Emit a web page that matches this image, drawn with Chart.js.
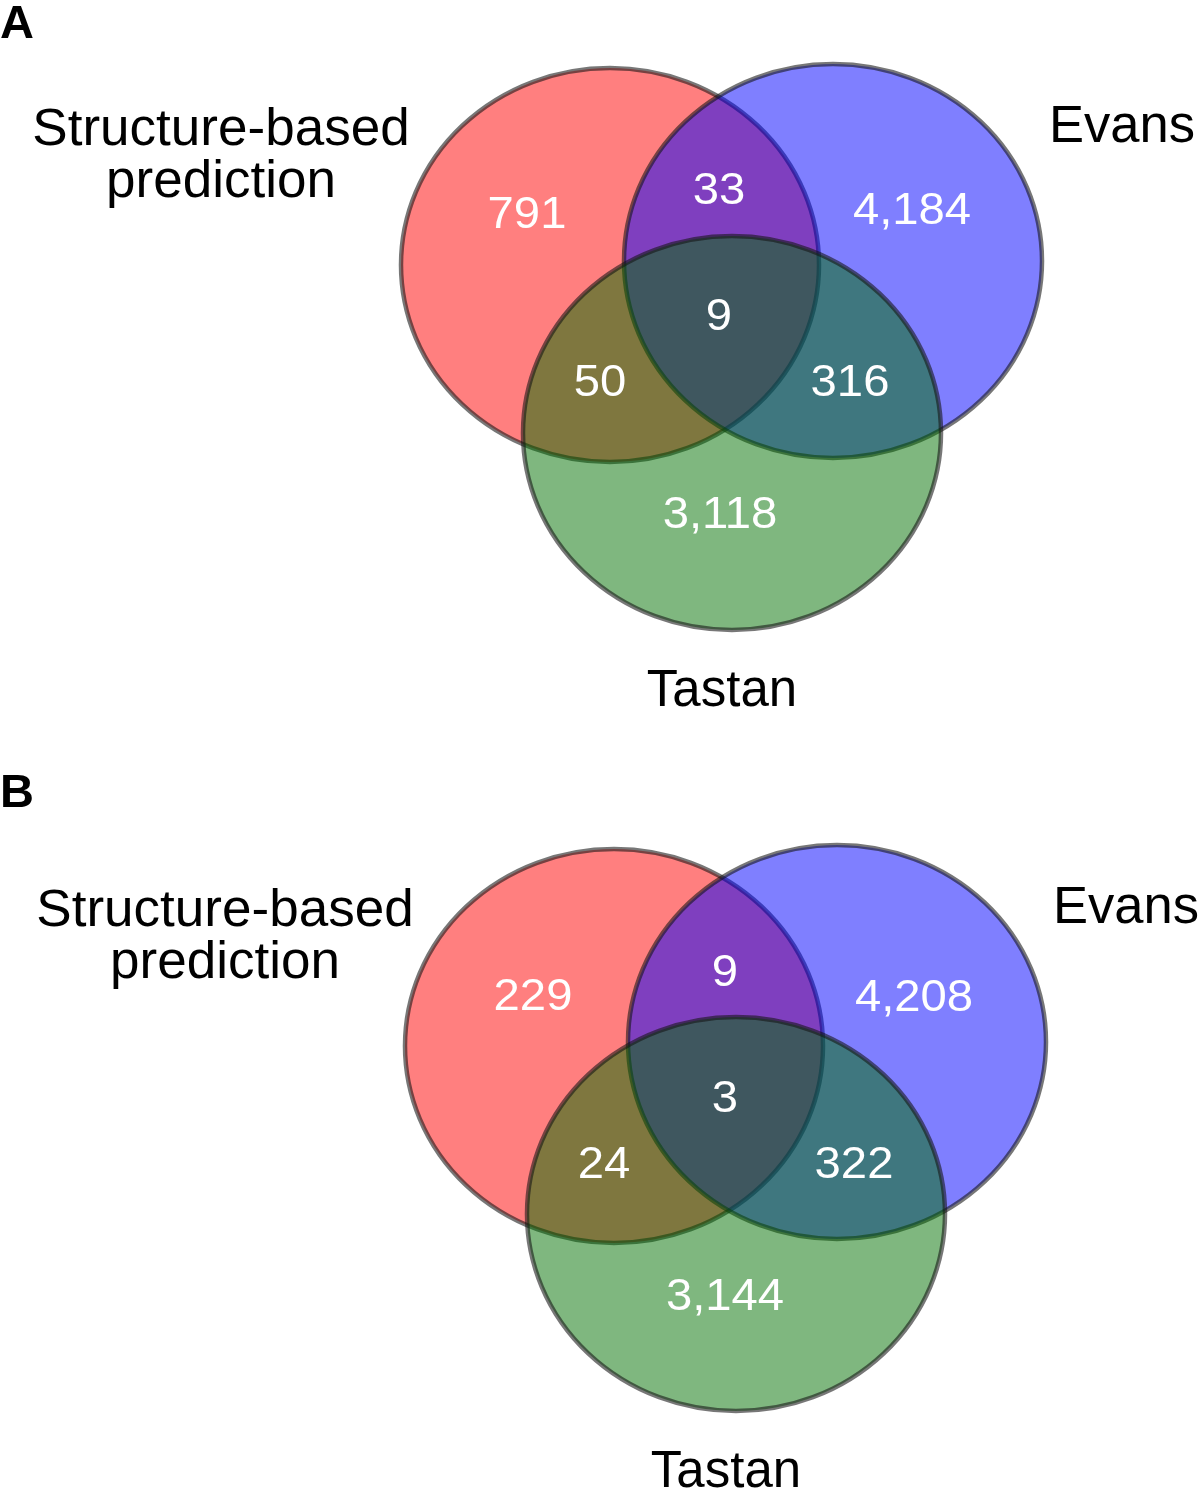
<!DOCTYPE html>
<html>
<head>
<meta charset="utf-8">
<title>Venn</title>
<script src="https://cdn.jsdelivr.net/npm/chart.js"></script>
<style>
  html, body { margin: 0; padding: 0; background: #fff; }
  canvas { display: block; }
</style>
</head>
<body>
<canvas id="venn" width="1200" height="1489"></canvas>
<script>
// sets and region counts (order: S only, S+E, E only, all three, S+T, E+T, T only)
var setNames = ['Structure-based prediction', 'Evans', 'Tastan'];
var panelLetters = ['A', 'B'];
var countsA = [791, 33, 4184, 9, 50, 316, 3118];
var countsB = [229, 9, 4208, 3, 24, 322, 3144];

// layout, in figure pixels
var panelOrigin = [{x: 0, y: 0}, {x: 4, y: 781}];
var circleCenter = [{x: 610, y: 265}, {x: 833, y: 261}, {x: 732, y: 433}];
var circleRx = 209, circleRy = 197;
var circleFill = ['rgba(255,0,0,0.5)', 'rgba(0,0,255,0.5)', 'rgba(0,112,0,0.5)'];
var regionPos = [
  [{x: 527, y: 228}, {x: 719, y: 204}, {x: 912, y: 224}, {x: 719, y: 330},
   {x: 600, y: 396}, {x: 850, y: 396}, {x: 720, y: 528}],
  [{x: 529, y: 229}, {x: 721, y: 205}, {x: 910, y: 230}, {x: 721, y: 331},
   {x: 600, y: 397}, {x: 850, y: 397}, {x: 721, y: 529}]
];
var letterPos = [{x: 0, y: 38}, {x: 0, y: 807}];

function fmt(n) { return n.toLocaleString('en-US'); }

function makeSet(counts, p) {
  return {
    data: regionPos[p].map(function(r, i) {
      return {x: r.x + panelOrigin[p].x, y: r.y + panelOrigin[p].y, count: counts[i]};
    }),
    pointRadius: 0,
    pointHoverRadius: 0
  };
}

function stretchText(ctx, txt, x, y, sx, align) {
  ctx.save();
  ctx.translate(x, y);
  ctx.scale(sx, 1);
  ctx.textAlign = align || 'center';
  ctx.fillText(txt, 0, 0);
  ctx.restore();
}

var vennPlugin = {
  id: 'venn',
  beforeDatasetsDraw: function(chart) {
    var ctx = chart.ctx, xs = chart.scales.x, ys = chart.scales.y;
    panelOrigin.forEach(function(o) {
      circleCenter.forEach(function(c, i) {
        var cx = xs.getPixelForValue(o.x + c.x);
        var cy = ys.getPixelForValue(o.y + c.y);
        var rx = xs.getPixelForValue(o.x + c.x + circleRx) - cx;
        var ry = ys.getPixelForValue(o.y + c.y + circleRy) - cy;
        ctx.save();
        ctx.beginPath();
        ctx.ellipse(cx, cy, Math.abs(rx), Math.abs(ry), 0, 0, Math.PI * 2);
        ctx.fillStyle = circleFill[i];
        ctx.fill();
        ctx.lineWidth = 4.5;
        ctx.strokeStyle = 'rgba(20,20,20,0.58)';
        ctx.stroke();
        ctx.restore();
      });
    });
  },
  afterDatasetsDraw: function(chart) {
    var ctx = chart.ctx, xs = chart.scales.x, ys = chart.scales.y;
    ctx.save();
    // region counts
    ctx.fillStyle = '#ffffff';
    ctx.font = '45px "Liberation Sans", Arial, sans-serif';
    ctx.textBaseline = 'alphabetic';
    chart.data.datasets.forEach(function(ds, d) {
      var meta = chart.getDatasetMeta(d);
      meta.data.forEach(function(pt, i) {
        stretchText(ctx, fmt(ds.data[i].count), pt.x, pt.y, 1.05);
      });
    });
    // set names
    ctx.fillStyle = '#000000';
    ctx.font = '51px "Liberation Sans", Arial, sans-serif';
    panelOrigin.forEach(function(o) {
      var words = setNames[0].split(' ');
      stretchText(ctx, words[0], xs.getPixelForValue(o.x + 221), ys.getPixelForValue(o.y + 145), 1.04);
      stretchText(ctx, words[1], xs.getPixelForValue(o.x + 221), ys.getPixelForValue(o.y + 197), 1.04);
      stretchText(ctx, setNames[1], xs.getPixelForValue(o.x + 1122), ys.getPixelForValue(o.y + 142), 1.03);
      stretchText(ctx, setNames[2], xs.getPixelForValue(o.x + 722), ys.getPixelForValue(o.y + 706), 1.0);
    });
    // panel letters
    ctx.font = 'bold 47px "Liberation Sans", Arial, sans-serif';
    panelLetters.forEach(function(l, i) {
      stretchText(ctx, l, xs.getPixelForValue(letterPos[i].x), ys.getPixelForValue(letterPos[i].y), 1.0, 'left');
    });
    ctx.restore();
  }
};

new Chart(document.getElementById('venn').getContext('2d'), {
  type: 'scatter',
  data: { datasets: [makeSet(countsA, 0), makeSet(countsB, 1)] },
  options: {
    responsive: false,
    animation: false,
    events: [],
    layout: { padding: 0 },
    plugins: { legend: { display: false }, tooltip: { enabled: false } },
    scales: {
      x: { type: 'linear', min: 0, max: 1200, display: false },
      y: { type: 'linear', min: 0, max: 1489, reverse: true, display: false }
    }
  },
  plugins: [vennPlugin]
});
</script>
</body>
</html>
